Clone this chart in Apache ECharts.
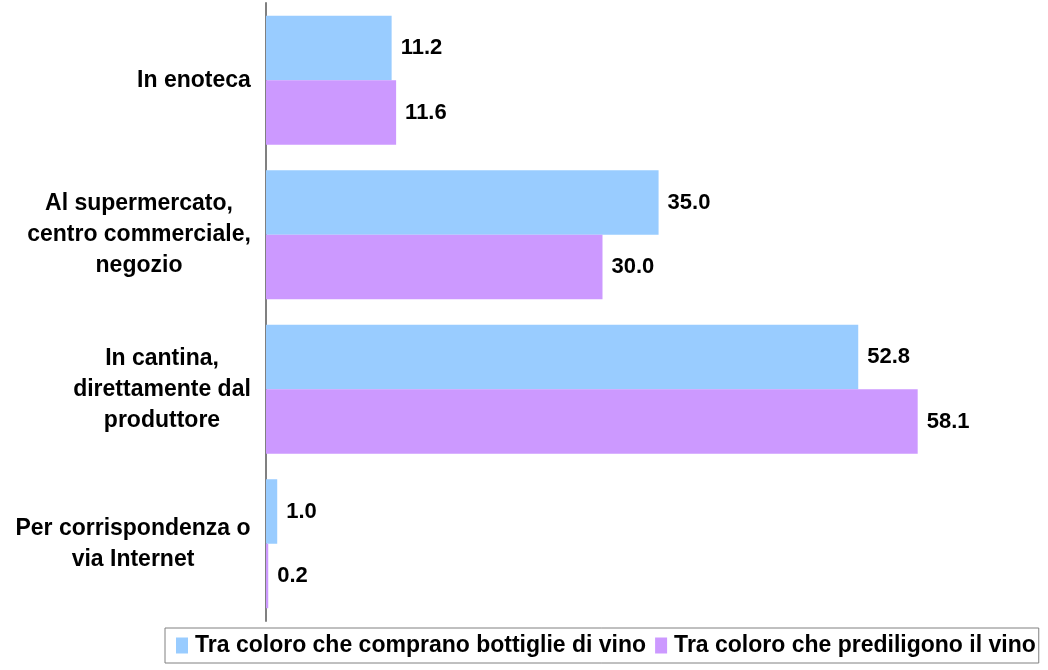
<!DOCTYPE html>
<html><head><meta charset="utf-8">
<script src="https://cdn.jsdelivr.net/npm/echarts@6/dist/echarts.min.js"></script>
<style>html,body{margin:0;padding:0;background:#fff}#c{width:1048px;height:670px}</style>
</head><body><div id="c"></div>
<script>
const categories = ["In enoteca", "Al supermercato,\ncentro commerciale,\nnegozio", "In cantina,\ndirettamente dal\nproduttore", "Per corrispondenza o\nvia Internet"];
const seriesNames = ["Tra coloro che comprano bottiglie di vino", "Tra coloro che prediligono il vino"];
const buyers = [11.2, 35.0, 52.8, 1.0];
const preferers = [11.6, 30.0, 58.1, 0.2];

const catFont = 'bold 23px "Liberation Sans", Arial, sans-serif';
const cv = document.createElement('canvas').getContext('2d');
cv.font = catFont;
const rich = {};
categories.forEach((c, i) => {
  const w = Math.max(...c.split('\n').map(l => cv.measureText(l).width));
  rich['c' + i] = {width: Math.ceil(w), align: 'center', fontSize: 23, fontWeight: 'bold', fontFamily: '"Liberation Sans", Arial, sans-serif', color: '#000', lineHeight: 31};
});

const labelStyle = {show: true, position: 'right', distance: 9, formatter: p => p.value.toFixed(1), fontSize: 22, fontWeight: 'bold', fontFamily: '"Liberation Sans", Arial, sans-serif', color: '#000'};

const chart = echarts.init(document.getElementById('c'));
chart.setOption({
  animation: false,
  grid: {left: 266, width: 673, top: 3, bottom: 49},
  legend: {
    left: 165, top: 628,
    padding: [6, 3, 6, 11],
    itemGap: 9, itemWidth: 12, itemHeight: 16,
    borderColor: '#808080', borderWidth: 1,
    icon: 'rect',
    textStyle: {fontSize: 23, fontWeight: 'bold', fontFamily: '"Liberation Sans Narrow", "Arial Narrow", "Liberation Sans", sans-serif', color: '#000', padding: [0, 0, 0, 2]},
    data: seriesNames
  },
  xAxis: {type: 'value', min: 0, max: 60, show: false},
  yAxis: {
    type: 'category', data: categories, inverse: true,
    axisLine: {show: true, lineStyle: {color: '#808080', width: 2}},
    axisTick: {show: false},
    axisLabel: {
      margin: 15,
      formatter: (v, i) => v.split('\n').map(l => '{c' + i + '|' + l + '}').join('\n'),
      rich: rich
    }
  },
  series: [
    {name: seriesNames[0], type: 'bar', data: buyers, barGap: '0%', barCategoryGap: '16.5%',
     itemStyle: {color: '#99CCFF'}, label: labelStyle},
    {name: seriesNames[1], type: 'bar', data: preferers, barGap: '0%', barCategoryGap: '16.5%',
     itemStyle: {color: '#CC99FF'}, label: labelStyle}
  ]
});
</script></body></html>
